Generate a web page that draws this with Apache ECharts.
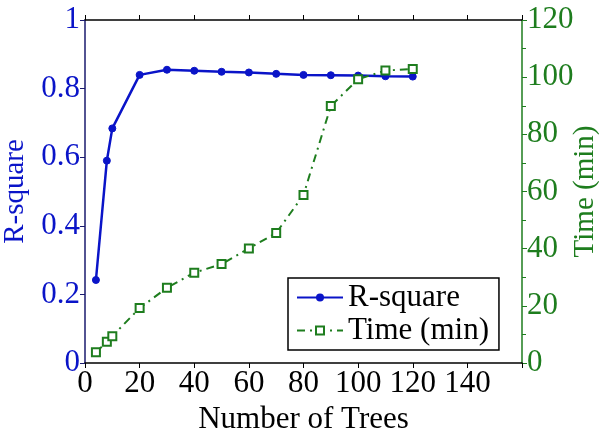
<!DOCTYPE html>
<html>
<head>
<meta charset="UTF-8">
<title>R-square vs Time</title>
<script src="https://cdn.jsdelivr.net/npm/echarts@6/dist/echarts.min.js"></script>
<style>
    html, body { margin: 0; padding: 0; background: #fff; }
    #main { width: 599px; height: 430px; }
</style>
</head>
<body>
<div id="main"></div>
<script>
    // 数据
    var trees = [4, 8, 10, 20, 30, 40, 50, 60, 70, 80, 90, 100, 110, 120];
    var rSquare = [0.242, 0.59, 0.684, 0.84, 0.855, 0.852, 0.849, 0.847, 0.843, 0.840, 0.839, 0.838, 0.836, 0.835];
    var timeMin = [3.8, 7.4, 9.4, 19.2, 26.3, 31.6, 34.6, 40.1, 45.5, 58.8, 89.9, 99.3, 102.3, 102.9];

    var font = 'Liberation Serif';
    var fs = 31;
    var blue = '#0a14c8';
    var green = '#1e7d1e';

    var myChart = echarts.init(document.getElementById('main'));
    var option = {
        backgroundColor: '#fff',
        animation: false,
        grid: { left: 85, right: 77, top: 20, bottom: 67, outerBoundsMode: 'none', containLabel: false },
        legend: {
            orient: 'vertical',
            left: 288, top: 278,
            padding: [4, 10, 4, 8],
            itemGap: 2,
            itemWidth: 46, itemHeight: 10,
            borderColor: '#000', borderWidth: 1.5,
            backgroundColor: '#fff',
            textStyle: { fontFamily: font, fontSize: fs, color: '#000' },
            data: ['R-square', 'Time (min)']
        },
        xAxis: [{
            type: 'value', min: 0, max: 160, interval: 20,
            name: 'Number of Trees', nameLocation: 'middle', nameGap: 38,
            nameTextStyle: { fontFamily: font, fontSize: fs, color: '#000' },
            axisLine: { onZero: false, lineStyle: { color: '#000', width: 1.5 } },
            axisTick: { lineStyle: { color: '#000' }, length: 5 },
            axisLabel: {
                fontFamily: font, fontSize: fs, color: '#000', margin: 5,
                formatter: function (v) { return v > 140 ? '' : v; }
            },
            splitLine: { show: false }
        }, {
            type: 'value', min: 0, max: 160, interval: 20, position: 'top',
            axisLine: { onZero: false, lineStyle: { color: '#000', width: 1.5 } },
            axisTick: { lineStyle: { color: '#000' }, length: 5 },
            axisLabel: { show: false },
            splitLine: { show: false }
        }],
        yAxis: [{
            type: 'value', min: 0, max: 1, interval: 0.2, position: 'left',
            name: 'R-square', nameLocation: 'middle', nameGap: 55, nameRotate: 90,
            nameMoveOverlap: false,
            nameTextStyle: { fontFamily: font, fontSize: 29, color: blue },
            axisLine: { show: true, onZero: false, lineStyle: { color: '#1a1a6e', width: 1.5 } },
            axisTick: { show: true, length: 5, lineStyle: { color: '#1a1a6e' } },
            axisLabel: { fontFamily: font, fontSize: fs, color: blue, margin: 5 },
            splitLine: { show: false }
        }, {
            type: 'value', min: 0, max: 120, interval: 20, position: 'right',
            name: 'Time (min)', nameLocation: 'middle', nameGap: 49, nameRotate: 90,
            nameMoveOverlap: false,
            nameTextStyle: { fontFamily: font, fontSize: 29, color: green },
            axisLine: { show: true, onZero: false, lineStyle: { color: green, width: 1.5 } },
            axisTick: { show: true, length: 5, lineStyle: { color: green } },
            minorTick: { show: true, splitNumber: 2, length: 4, lineStyle: { color: green } },
            axisLabel: { fontFamily: font, fontSize: fs, color: green, margin: 5 },
            splitLine: { show: false }
        }],
        series: [{
            name: 'R-square',
            type: 'line',
            xAxisIndex: 0, yAxisIndex: 0,
            data: trees.map(function (t, i) { return [t, rSquare[i]]; }),
            symbol: 'circle', symbolSize: 7,
            lineStyle: { color: blue, width: 2.5 },
            itemStyle: { color: blue, borderColor: blue },
            z: 3
        }, {
            name: 'Time (min)',
            type: 'line',
            xAxisIndex: 0, yAxisIndex: 1,
            data: trees.map(function (t, i) { return [t, timeMin[i]]; }),
            symbol: 'emptyRect', symbolSize: 8,
            lineStyle: { color: green, width: 2, type: [8, 5, 2, 5] },
            itemStyle: { color: green, borderColor: green, borderWidth: 2 },
            z: 4
        }]
    };
    myChart.setOption(option);
</script>
</body>
</html>
